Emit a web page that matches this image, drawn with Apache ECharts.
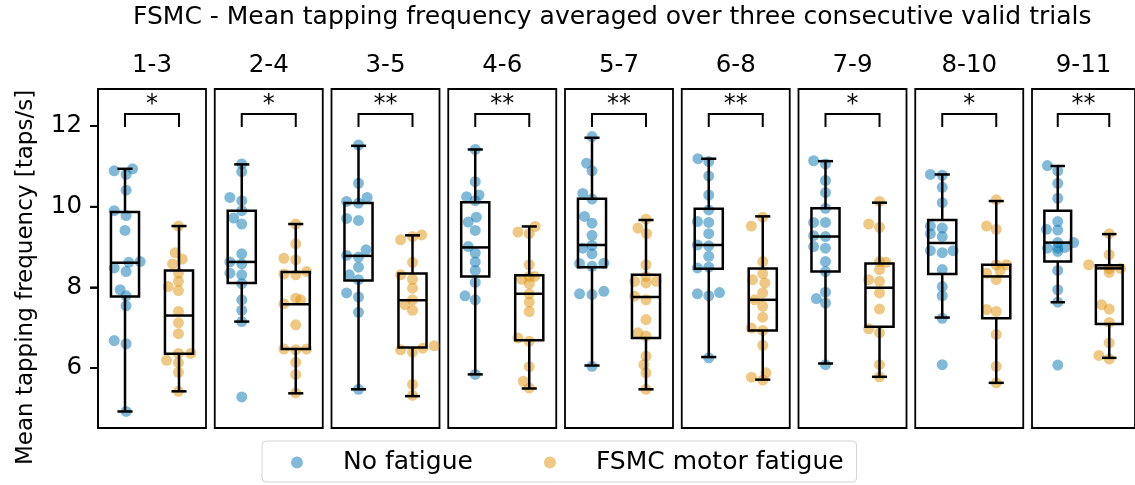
<!DOCTYPE html>
<html><head><meta charset="utf-8">
<script src="https://cdn.jsdelivr.net/npm/echarts@6/dist/echarts.min.js"></script>
<style>html,body{margin:0;padding:0;background:#fff}#c{width:1135px;height:485px}</style>
</head><body><div id="c"></div>
<script>
// ---------- data ----------
const chartTitle = 'FSMC - Mean tapping frequency averaged over three consecutive valid trials';
const yAxisName = 'Mean tapping frequency [taps/s]';
const panelLabels = ['1-3','2-4','3-5','4-6','5-7','6-8','7-9','8-10','9-11'];
const sigLabels = ['*','*','**','**','**','**','*','*','**'];
const groupNames = ['No fatigue','FSMC motor fatigue'];
const yTicks = [6, 8, 10, 12];

// per panel: individual (averaged) values
const noFatigueValues = [
  [10.89,10.80,10.94,10.41,9.90,9.78,9.41,8.64,8.62,8.48,8.39,7.94,7.79,7.54,6.68,6.60,4.92],
  [11.06,10.87,10.23,10.15,9.90,9.72,9.57,8.83,8.63,8.58,8.35,8.31,8.09,7.69,7.43,7.15,5.28],
  [11.53,10.58,10.23,10.13,10.09,9.71,9.66,8.93,8.79,8.75,8.50,8.31,8.19,7.86,7.76,7.38,5.47],
  [11.42,10.62,10.29,10.25,10.15,9.74,9.62,9.41,9.01,8.85,8.63,8.42,8.12,7.79,7.69,5.84],
  [11.74,11.08,10.89,10.33,10.19,9.76,9.59,9.29,9.04,8.97,8.83,8.60,8.59,8.52,7.90,7.84,7.82,6.04],
  [11.19,11.12,10.76,10.29,9.92,9.63,9.61,9.33,9.05,9.03,8.77,8.48,8.50,7.84,7.79,7.87,6.25],
  [11.14,11.06,10.65,10.35,9.96,9.61,9.61,9.28,9.26,9.01,8.97,8.64,8.39,7.88,7.72,7.61,6.08],
  [10.80,10.78,10.48,10.10,9.52,9.47,9.33,9.26,8.91,8.86,8.91,8.44,8.02,7.79,7.23,6.08],
  [11.02,10.89,10.58,10.21,9.63,9.44,9.42,9.11,8.97,8.97,9.11,8.99,8.89,8.42,7.94,7.63,6.07]
];
const noFatigueJitter = [
  [-0.20,0.02,0.14,0.02,-0.20,0.02,0,0.28,0.07,-0.20,0.02,-0.09,0.02,0.02,-0.20,0.02,0.02],
  [0,0,-0.22,0,0,-0.15,0,0,-0.22,0,-0.22,0,0,0,0,0,0],
  [0,0,0.16,-0.22,0,-0.22,0,0.14,-0.22,0,0,-0.17,0,-0.22,0,0,0],
  [0,0,0.07,-0.16,0,0.02,-0.13,0,-0.13,0,0,0,0,-0.19,0,0],
  [0,-0.10,0,-0.17,0,-0.14,0,0,0,-0.17,0,0.22,-0.23,0,0.22,-0.23,0,0],
  [-0.20,0,0,0,0,-0.21,0,0,-0.21,0,0,-0.21,0,-0.21,0,0.20,0],
  [-0.22,0,0,0,0,-0.22,0,-0.22,0,-0.22,0,0,0,0,-0.17,0,0],
  [-0.22,0,0,0,-0.22,0,-0.22,0,-0.22,0,0.20,0,0,0,0,0],
  [-0.20,0,0,0,0,-0.22,0,0,-0.20,0,0.31,0.14,0,0,0,0,0]
];
const fsmcValues = [
  [9.52,8.86,8.70,8.58,8.35,8.15,8.02,7.92,7.40,7.12,6.85,6.36,6.36,6.19,6.13,5.89,5.42],
  [9.57,9.08,8.72,8.68,8.39,8.33,8.31,7.73,7.69,7.59,7.07,6.47,6.45,6.47,6.14,5.84,5.38],
  [9.30,9.26,9.18,8.62,8.31,8.20,7.98,7.69,7.57,7.43,6.55,6.49,6.45,6.39,5.59,5.32],
  [9.51,9.37,9.33,8.56,8.27,8.27,8.20,8.09,7.84,7.63,7.40,6.74,6.66,6.03,5.67,5.50],
  [9.69,9.47,9.33,8.56,8.27,8.15,8.11,8.15,7.78,7.69,7.20,6.87,6.79,6.29,6.08,5.88,5.47],
  [9.74,9.52,8.64,8.34,8.19,8.11,7.86,7.69,7.53,7.26,6.99,6.93,6.56,5.88,5.77,5.70],
  [10.13,9.57,9.49,8.64,8.62,8.44,8.19,8.15,7.86,7.46,6.97,6.87,6.08,5.78],
  [10.17,9.52,9.44,8.56,8.56,8.42,8.35,8.19,7.45,7.40,6.83,6.04,5.63],
  [9.33,8.81,8.56,8.47,8.47,8.37,7.57,7.46,7.13,6.62,6.31,6.22]
];
const fsmcJitter = [
  [-0.01,-0.07,0.06,-0.12,-0.01,-0.01,-0.20,-0.01,-0.01,-0.01,-0.01,-0.01,0.22,-0.23,-0.01,-0.01,-0.01],
  [0,0,-0.22,0,0.20,-0.22,0,0,0.09,-0.22,0,-0.22,0,0.20,0,0,0],
  [0.17,0,-0.22,0,-0.22,0,0,0,-0.14,0,0.40,0.19,-0.22,0,0,0],
  [0.11,-0.21,0,0,0,0.10,-0.14,0,0,0,0,-0.21,0,0,-0.11,0],
  [0,-0.15,0.01,0,0,-0.21,0,0.19,-0.21,0,0,-0.15,0,0,-0.04,0,0],
  [0,-0.21,0,0,-0.19,0.04,0,-0.15,0,0,-0.21,0,0,0.06,-0.21,0],
  [0,-0.20,0,0,0.12,0,-0.20,0,0,0,-0.20,0,0,0],
  [0,-0.18,0,0,0.19,0.07,-0.18,0,-0.18,0,0,0,0],
  [0,0,-0.40,0,0.22,0,-0.15,0,0,0,-0.20,0]
];
// box statistics: [lower whisker, Q1, median, Q3, upper whisker]
const noFatigueBox = [
  [4.92,7.77,8.61,9.87,10.94],
  [7.15,8.11,8.63,9.90,11.05],
  [5.47,8.17,8.78,10.09,11.51],
  [5.84,8.27,8.99,10.11,11.42],
  [6.06,8.50,9.05,10.20,11.71],
  [6.27,8.46,9.05,9.95,11.19],
  [6.11,8.39,9.26,9.96,11.13],
  [7.25,8.33,9.10,9.67,10.80],
  [7.63,8.64,9.11,9.90,11.01]
];
const fsmcBox = [
  [5.42,6.35,7.30,8.42,9.52],
  [5.37,6.47,7.58,8.38,9.57],
  [5.30,6.51,7.68,8.34,9.29],
  [5.49,6.69,7.84,8.30,9.51],
  [5.47,6.74,7.76,8.31,9.67],
  [5.71,6.93,7.69,8.47,9.76],
  [5.78,7.02,7.99,8.59,10.10],
  [5.63,7.23,8.27,8.56,10.14],
  [6.25,7.09,8.47,8.55,9.32]
];
// significance bracket (data units)
const bracketLow = 11.98;
const bracketHigh = 12.30;

// ---------- layout / style ----------
const FONT = 'DejaVu Sans';
const FS = 24.5;
const FS_BIG = 25;
const BLUE = 'rgba(1,115,178,0.62)';
const ORANGE = 'rgba(222,143,5,0.62)';
const P_LEFT = 98, P_STEP = 116.75, P_W = 108, P_TOP = 89, P_H = 339;
const Y_MIN = 4.51, Y_MAX = 12.92;
const X_MIN = -0.5, X_MAX = 1.5;
const BOX_HALF = 0.26, CAP_HALF = 0.14;
const TICK_LEN = 8;

function renderBox(params, api) {
  const g = api.value(0);
  const pLo = api.coord([g, api.value(1)]);
  const pQ1 = api.coord([g, api.value(2)]);
  const pMd = api.coord([g, api.value(3)]);
  const pQ3 = api.coord([g, api.value(4)]);
  const pHi = api.coord([g, api.value(5)]);
  const hw = api.size([BOX_HALF, 0])[0];
  const cw = api.size([CAP_HALF, 0])[0];
  const x = pMd[0];
  const st = {stroke: '#000', lineWidth: 2.5, fill: 'none'};
  return {type: 'group', children: [
    {type: 'line', shape: {x1: x, y1: pQ3[1], x2: x, y2: pHi[1]}, style: st},
    {type: 'line', shape: {x1: x, y1: pQ1[1], x2: x, y2: pLo[1]}, style: st},
    {type: 'line', shape: {x1: x - cw, y1: pHi[1], x2: x + cw, y2: pHi[1]}, style: st},
    {type: 'line', shape: {x1: x - cw, y1: pLo[1], x2: x + cw, y2: pLo[1]}, style: st},
    {type: 'rect', shape: {x: x - hw, y: pQ3[1], width: 2 * hw, height: pQ1[1] - pQ3[1]}, style: st},
    {type: 'line', shape: {x1: x - hw, y1: pMd[1], x2: x + hw, y2: pMd[1]}, style: st}
  ]};
}

function makeBracketRenderer(label) {
  return function (params, api) {
    const a = api.coord([api.value(0), api.value(2)]);
    const b = api.coord([api.value(0), api.value(3)]);
    const c = api.coord([api.value(1), api.value(3)]);
    const d = api.coord([api.value(1), api.value(2)]);
    return {type: 'group', children: [
      {type: 'polyline', shape: {points: [a, b, c, d]}, style: {stroke: '#000', lineWidth: 2, fill: 'none'}},
      {type: 'text', x: (b[0] + c[0]) / 2, y: b[1] - 9,
       style: {text: label, align: 'center', verticalAlign: 'middle', fontSize: 24, fontFamily: FONT, fill: '#000'}}
    ]};
  };
}

// y tick marks at the axis edge, positioned through the axis scale
function renderTick(params, api) {
  const p = api.coord([api.value(0), api.value(1)]);
  return {type: 'line', shape: {x1: p[0] - TICK_LEN, y1: p[1], x2: p[0], y2: p[1]},
    style: {stroke: '#000', lineWidth: 1.8}};
}

const grid = [], xAxis = [], yAxis = [], series = [];
for (let i = 0; i < panelLabels.length; i++) {
  grid.push({left: P_LEFT + i * P_STEP, top: P_TOP, width: P_W, height: P_H,
    show: true, borderColor: '#000', borderWidth: 1.8, backgroundColor: 'transparent'});
  xAxis.push({gridIndex: i, type: 'value', min: X_MIN, max: X_MAX, position: 'top',
    name: panelLabels[i], nameLocation: 'middle', nameGap: 11,
    nameTextStyle: {fontSize: FS, fontFamily: FONT, color: '#000'},
    axisLine: {show: false, onZero: false}, axisTick: {show: false}, axisLabel: {show: false}, splitLine: {show: false}});
  yAxis.push({gridIndex: i, type: 'value', min: Y_MIN, max: Y_MAX, position: 'left',
    name: i === 0 ? yAxisName : '', nameLocation: 'middle', nameGap: 60,
    nameTextStyle: {fontSize: 23, fontFamily: FONT, color: '#000', padding: [0, 38, 0, 0]},
    splitLine: {show: false},
    axisLine: {show: i === 0, onZero: false, lineStyle: {color: '#000', width: 1.8}},
    axisTick: {show: i === 0, inside: false, length: TICK_LEN, customValues: yTicks, lineStyle: {color: '#000', width: 1.8}},
    axisLabel: {show: i === 0, customValues: yTicks, margin: 16, fontSize: FS, fontFamily: FONT, color: '#000'}});
  series.push({type: 'scatter', name: groupNames[0], xAxisIndex: i, yAxisIndex: i, z: 2, silent: true,
    symbolSize: 11, itemStyle: {color: BLUE},
    data: noFatigueValues[i].map((v, k) => [0 + noFatigueJitter[i][k], v])});
  series.push({type: 'scatter', name: groupNames[1], xAxisIndex: i, yAxisIndex: i, z: 2, silent: true,
    symbolSize: 11, itemStyle: {color: ORANGE},
    data: fsmcValues[i].map((v, k) => [1 + fsmcJitter[i][k], v])});
  series.push({type: 'custom', xAxisIndex: i, yAxisIndex: i, z: 3, silent: true, renderItem: renderBox,
    data: [[0].concat(noFatigueBox[i]), [1].concat(fsmcBox[i])]});
  series.push({type: 'custom', xAxisIndex: i, yAxisIndex: i, z: 3, silent: true,
    renderItem: makeBracketRenderer(sigLabels[i]),
    data: [[0, 1, bracketLow, bracketHigh]]});
}
series.push({type: 'custom', xAxisIndex: 0, yAxisIndex: 0, z: 5, silent: true, clip: false,
  renderItem: renderTick, data: yTicks.map(v => [X_MIN, v])});

const chart = echarts.init(document.getElementById('c'), null, {renderer: 'canvas'});
chart.setOption({
  animation: false,
  backgroundColor: '#fff',
  title: {text: chartTitle, left: 133, top: 5, padding: 0,
    textStyle: {fontSize: FS_BIG, fontWeight: 'normal', fontFamily: FONT, color: '#000'}},
  legend: {
    data: [{name: groupNames[0], itemStyle: {color: BLUE}}, {name: groupNames[1], itemStyle: {color: ORANGE}}],
    icon: 'circle', itemWidth: 12, itemHeight: 12, left: 262, top: 441,
    padding: [9, 13, 7, 29], itemGap: 71, selectedMode: false,
    borderColor: '#d4d4d4', borderWidth: 1, borderRadius: 4,
    formatter: n => '{t|' + n + '}',
    textStyle: {fontSize: FS_BIG, fontFamily: FONT, color: '#000',
      rich: {t: {fontSize: FS_BIG, fontFamily: FONT, color: '#000', padding: [0, 0, 0, 35]}}}
  },
  grid, xAxis, yAxis, series
});
</script></body></html>
